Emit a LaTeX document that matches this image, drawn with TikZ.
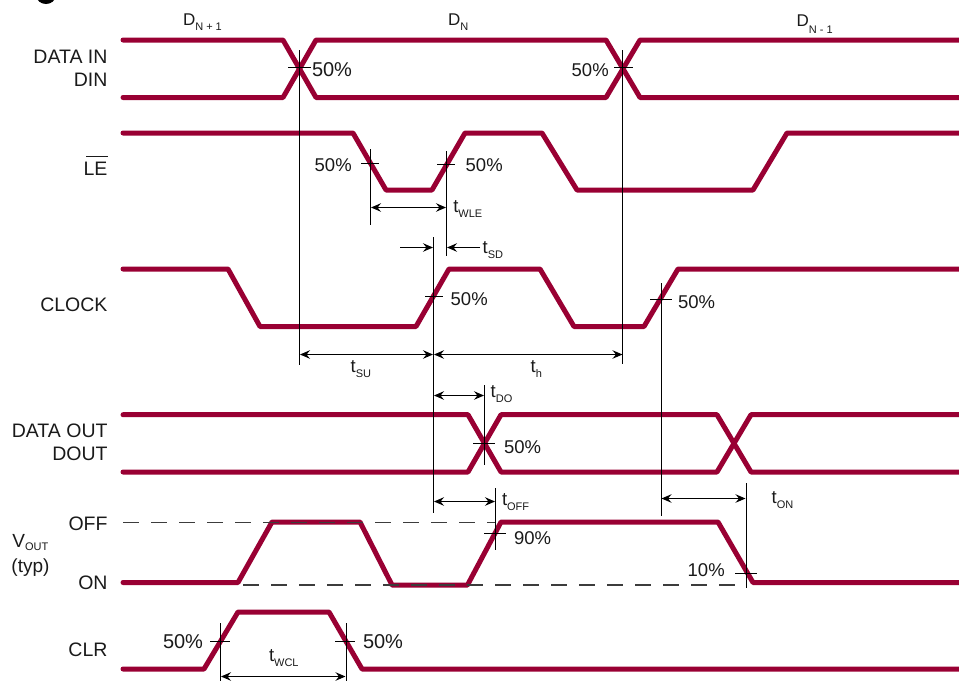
\documentclass[tikz,border=0pt]{standalone}
\usepackage{fontspec}
\setmainfont{Liberation Sans}
\usetikzlibrary{arrows.meta}
\definecolor{trace}{HTML}{990033}
\definecolor{ink}{HTML}{1A1A1A}
\newcommand{\lowsub}[2][5]{\raisebox{-#1pt}{\fontsize{11}{11}\selectfont #2}}
\tikzset{
  wave/.style={draw=trace,line width=5pt,line cap=round,line join=bevel},
  mark line/.style={draw=black,line width=1.2pt},
  tickline/.style={draw=black,line width=1.1pt},
  dim/.style={draw=black,line width=1.1pt,{Stealth[length=10pt,width=8.5pt,inset=3.5pt]}-{Stealth[length=10pt,width=8.5pt,inset=3.5pt]}},
  dimr/.style={draw=black,line width=1.1pt,-{Stealth[length=10pt,width=8.5pt,inset=3.5pt]}},
  dash line/.style={draw=ink!85,line width=1.1pt,dash pattern=on 16pt off 12pt},
  lab/.style={inner sep=0pt,outer sep=0pt,font=\fontsize{18.5}{20}\selectfont,text=ink},
  sig/.style={lab,anchor=base east,font=\fontsize{19.5}{21}\selectfont},
  txt/.style={lab,anchor=base west},
  wide/.style={lab,anchor=base west,font=\fontsize{20}{22}\selectfont},
}
\begin{document}
\begin{tikzpicture}[x=1pt,y=-1pt]
\useasboundingbox (0,0) rectangle (959,681);
\fill[black] (46,-4) ellipse [x radius=9.5,y radius=8];

% traces
\draw[wave] (123,40) -- (283,40) -- (316,97.5) -- (606,97.5) -- (640,40) -- (959,40);
\draw[wave] (123,97.5) -- (283,97.5) -- (316,40) -- (606,40) -- (640,97.5) -- (959,97.5);
\draw[wave] (123,133) -- (353,133) -- (386,190) -- (432,190) -- (465,133) -- (542,133) -- (577,190) -- (753,190) -- (787,133) -- (959,133);
\draw[wave] (123,269) -- (228,269) -- (260,326.5) -- (416,326.5) -- (449,269) -- (540,269) -- (574,326.5) -- (644,326.5) -- (678,269) -- (959,269);
\draw[wave] (123,414.7) -- (468,414.7) -- (501,472) -- (717,472) -- (751,414.7) -- (959,414.7);
\draw[wave] (123,472) -- (468,472) -- (501,414.7) -- (717,414.7) -- (751,472) -- (959,472);
\draw[wave] (123,582.5) -- (238,582.5) -- (272,522) -- (360,522) -- (392,585) -- (467.5,585) -- (501,522) -- (718,522) -- (753,582.5) -- (959,582.5);
\draw[wave] (123,669) -- (204,669) -- (238,612) -- (329,612) -- (362,669) -- (959,669);

% dashed levels
\draw[dash line] (123,522.5) -- (495,522.5);
\draw[dash line] (243,585) -- (746,585);

% vertical reference lines
\draw[mark line] (299.5,50) -- (299.5,365);
\draw[mark line] (433.5,237) -- (433.5,513);
\draw[mark line] (622.5,50) -- (622.5,364);
\draw[mark line] (661.5,283) -- (661.5,516);
\draw[mark line] (370.5,149) -- (370.5,224.5);
\draw[mark line] (446.5,151) -- (446.5,256);
\draw[mark line] (484.5,385) -- (484.5,465);
\draw[mark line] (495.5,488) -- (495.5,550);
\draw[mark line] (746.5,483) -- (746.5,588);
\draw[mark line] (220.5,623) -- (220.5,681);
\draw[mark line] (346.5,623) -- (346.5,681);

% level ticks
\draw[tickline] (288,67.5) -- (311,67.5);
\draw[tickline] (614,67.5) -- (633,67.5);
\draw[tickline] (361,163.5) -- (379,163.5);
\draw[tickline] (437,164.5) -- (455,164.5);
\draw[tickline] (425,296.5) -- (443,296.5);
\draw[tickline] (650,299.5) -- (672,299.5);
\draw[tickline] (473,443.5) -- (495,443.5);
\draw[tickline] (484,533.5) -- (506,533.5);
\draw[tickline] (735,573.5) -- (757,573.5);
\draw[tickline] (210,641.5) -- (230,641.5);
\draw[tickline] (335,641.5) -- (355,641.5);

% dimension arrows
\draw[dim] (371,207.5) -- (446,207.5);
\draw[dimr] (400,247.5) -- (433,247.5);
\draw[dimr] (480,247.5) -- (447,247.5);
\draw[dim] (300,354.5) -- (433,354.5);
\draw[dim] (434,354.5) -- (622.5,354.5);
\draw[dim] (434,395.5) -- (484,395.5);
\draw[dim] (434,501.5) -- (495,501.5);
\draw[dim] (661.5,498.5) -- (745.5,498.5);
\draw[dim] (221,676.5) -- (345.5,676.5);

% signal names
\node[sig] (ndatain) at (107.5,63.5) {DATA IN};
\node[sig] (ndin) at (107.5,86.7) {DIN};
\node[sig] (nle) at (107.5,175) {LE};
\draw[draw=ink,line width=1.1pt] (86,156.5) -- (108,156.5);
\node[sig] (nclock) at (107.5,311.7) {CLOCK};
\node[sig] (ndataout) at (107.5,437.7) {DATA OUT};
\node[sig] (ndout) at (107.5,460.7) {DOUT};
\node[sig] (noff) at (107.5,530) {OFF};
\node[sig] (non) at (107.5,589) {ON};
\node[txt,font=\fontsize{19}{21}\selectfont] (nvout) at (12.5,547) {V\lowsub[3]{OUT}};
\node[txt,font=\fontsize{19}{21}\selectfont] (ntyp) at (11.5,572) {(typ)};
\node[sig] (nclr) at (107.5,656.7) {CLR};

% data labels
\node[txt,font=\fontsize{17}{19}\selectfont] (dnp) at (183,25) {D\lowsub[5.5]{N + 1}};
\node[txt,font=\fontsize{17}{19}\selectfont] (dn) at (448,25) {D\lowsub[5.5]{N}};
\node[txt,font=\fontsize{17}{19}\selectfont] (dnm) at (796.7,26.7) {D\lowsub[6.5]{N - 1}};

% percentages
\node[wide] (p1) at (312,76) {50\%};
\node[txt] (p2) at (571.7,76) {50\%};
\node[txt] (p3) at (314.7,171) {50\%};
\node[txt] (p4) at (465.7,171) {50\%};
\node[txt] (p5) at (450.7,305.7) {50\%};
\node[txt] (p6) at (678,308) {50\%};
\node[txt] (p7) at (504,453) {50\%};
\node[txt] (p8) at (514,544) {90\%};
\node[txt] (p9) at (687.7,576) {10\%};
\node[wide] (p10) at (163,648) {50\%};
\node[wide] (p11) at (363,648) {50\%};

% timing labels
\node[txt] (twle) at (453.3,212) {t\lowsub{WLE}};
\node[txt] (tsd) at (482.7,253) {t\lowsub{SD}};
\node[txt] (tsu) at (350.7,372) {t\lowsub{SU}};
\node[txt] (th) at (530.7,372) {t\lowsub{h}};
\node[txt] (tdo) at (490.7,397) {t\lowsub{DO}};
\node[txt] (toff) at (502,505.7) {t\lowsub{OFF}};
\node[txt] (ton) at (771.7,503) {t\lowsub{ON}};
\node[txt] (twcl) at (269,661.7) {t\lowsub{WCL}};
\end{tikzpicture}
\end{document}
